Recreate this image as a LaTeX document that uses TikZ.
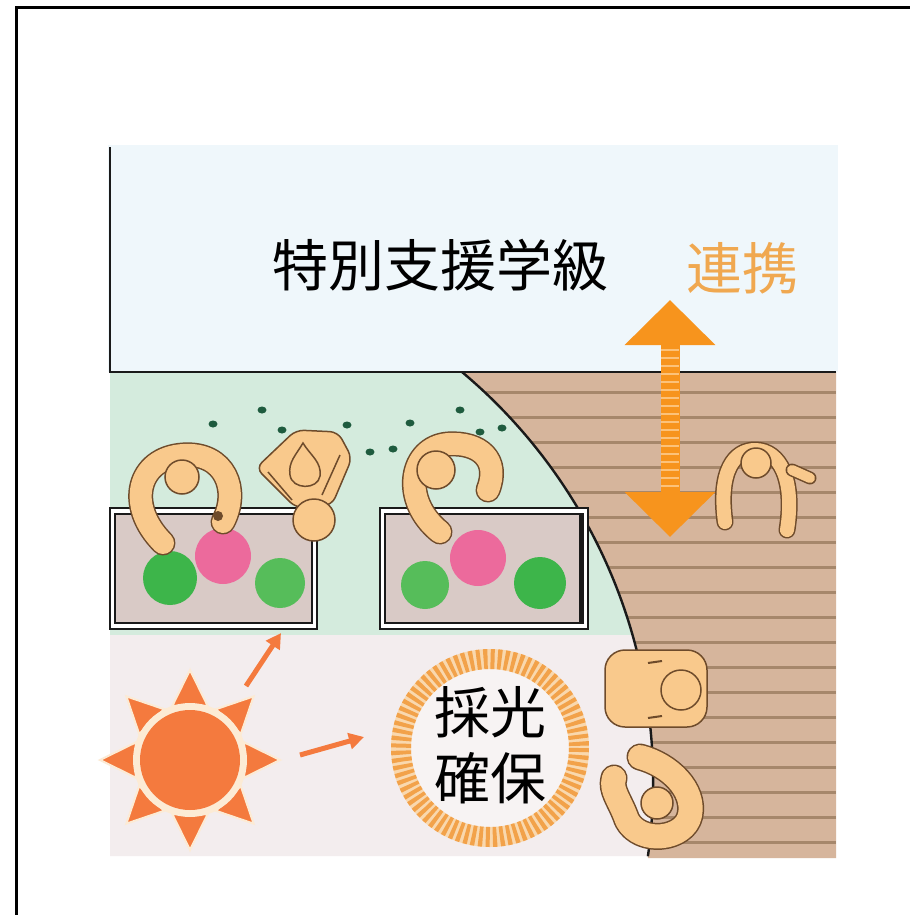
\documentclass[tikz,border=0pt]{standalone}
\usepackage{fontspec}
\usepackage{tikz}
\usetikzlibrary{arrows.meta,positioning,calc}
\newfontfamily\jpfont{Noto Sans CJK JP}
\definecolor{ink}{HTML}{1A1A1A}
\definecolor{sky}{HTML}{EFF7FB}
\definecolor{lawn}{HTML}{D4EBDD}
\definecolor{floor}{HTML}{F3EDEE}
\definecolor{deck}{HTML}{D6B59C}
\definecolor{deckline}{HTML}{A6876B}
\definecolor{soil}{HTML}{D9CAC6}
\definecolor{skin}{HTML}{F9C98C}
\definecolor{skinline}{HTML}{6E4B2B}
\definecolor{bloom}{HTML}{EC6A9C}
\definecolor{leaf}{HTML}{3DB54A}
\definecolor{leaflight}{HTML}{56BD5A}
\definecolor{seedgreen}{HTML}{1E5B3E}
\definecolor{linkorange}{HTML}{F7941D}
\definecolor{linkstripe}{HTML}{FCC27A}
\definecolor{labelorange}{HTML}{F0A850}
\definecolor{sunorange}{HTML}{F47A3E}
\definecolor{suncream}{HTML}{FCEBD5}
\definecolor{ringtick}{HTML}{F2A24A}
\definecolor{ringbg}{HTML}{F9D8AE}
\definecolor{ringin}{HTML}{F7F3F3}
\tikzset{
  wall/.style={draw=ink,line width=2.4pt},
  planterout/.style={draw=ink,fill=white,line width=1.4pt},
  planterin/.style={draw=ink,fill=soil,line width=2pt},
  bush/.style={fill=leaf},
  skinbody/.style={draw=skinline,double=skin,line width=1.5pt,
                   line cap=round,line join=round},
  skinhead/.style={fill=skin,draw=skinline,line width=1.5pt},
  seed/.style={fill=seedgreen},
  linkarr/.style={{Triangle[length=45pt,width=88pt]}-{Triangle[length=45pt,width=88pt]},
                  line width=19pt,draw=linkorange},
  sunarr/.style={-{Triangle[length=15pt,width=16pt]},line width=5pt,draw=sunorange},
  bigjp/.style={font=\jpfont\fontsize{56}{66}\selectfont,inner sep=0pt,align=center}
}

\begin{document}
\begin{tikzpicture}[x=1pt,y=-1pt]
  \useasboundingbox (0,0) rectangle (910,915);
  \fill[white] (0,0) rectangle (910,915);
  % outer frame
  \draw[line width=3pt] (16,915) -- (16,8) -- (910,8);

  % floor areas
  \fill[sky] (108,145) rectangle (838,372);
  \fill[lawn] (110,372) -- (462,372) arc[start angle=-50,end angle=-15.7,radius=535]
    -- (110,635) -- cycle;
  \fill[floor] (110,635) -- (633,635) arc[start angle=-15.7,end angle=8,radius=535]
    -- (648,856) -- (110,856) -- cycle;
  \fill[deck] (836,372) -- (462,372) arc[start angle=-50,end angle=8,radius=535]
    -- (648,858) -- (836,858) -- cycle;
  \begin{scope}
    \clip (836,372) -- (462,372) arc[start angle=-50,end angle=8,radius=535]
      -- (648,858) -- (836,858) -- cycle;
    \foreach \y in {392,417,...,845}
      \draw[deckline,line width=3pt] (440,\y) -- (836,\y);
  \end{scope}
  \draw[wall] (110,147) -- (110,372) -- (836,372);
  \draw[wall] (462,372) arc[start angle=-50,end angle=8,radius=535];

  % planters
  \draw[planterout] (110,508) rectangle (317,629);
  \draw[planterin] (115,514) rectangle (312,623);
  \draw[planterout] (380,508) rectangle (588,629);
  \draw[planterin] (385,514) rectangle (583,623);
  \draw[ink,line width=5pt] (581,514) -- (581,623);
  \fill[bush] (170,578) circle (27);
  \fill[bloom] (223,556) circle (28);
  \fill[leaflight] (280,583) circle (25);
  \fill[leaflight] (425,585) circle (24);
  \fill[bloom] (478,558) circle (28);
  \fill[bush] (540,583) circle (26);

  % seeds
  \foreach \px/\py in {213/424,262/410,282/430,347/425,370/452,
                       393/449,410/423,460/410,480/432,502/428}
    \fill[seed] (\px,\py) ellipse (4.5 and 3.5);

  % people at the planters
  \draw[skinbody,double distance=22pt] (163,543) .. controls (125,505) and (138,458) .. (183,455)
    .. controls (225,452) and (240,490) .. (223,522);
  \draw[skinhead] (182,477) circle (17);
  \fill[skinline] (218,516) circle (5);

  \filldraw[skinhead,rounded corners=8pt] (256,468) -- (296,430) -- (338,432)
    -- (352,458) -- (332,505) -- (296,508) -- cycle;
  \draw[skinline,line width=1.5pt] (268,472) -- (292,500) (340,455) -- (322,495);
  \filldraw[skinhead] (303,443) .. controls (296,455) and (288,462) .. (290,475)
    .. controls (292,490) and (318,490) .. (320,476)
    .. controls (322,462) and (310,455) .. (303,443) -- cycle;
  \draw[skinhead] (314,520) circle (21);

  \draw[skinbody,double distance=22pt] (440,532) .. controls (400,500) and (410,447) .. (448,444)
    .. controls (480,442) and (500,460) .. (488,490);
  \draw[skinhead] (436,470) circle (19);

  % people on the deck
  \draw[skinbody,double distance=14pt] (725,522) .. controls (718,470) and (735,450) .. (755,450)
    .. controls (780,450) and (795,480) .. (787,530);
  \draw[skinbody,double distance=10pt] (792,470) -- (810,478);
  \draw[skinhead] (756,463) circle (15);

  \filldraw[skinhead,rounded corners=20pt] (605,650) rectangle (707,727);
  \draw[skinhead] (681,690) circle (20);
  \draw[skinline,line width=2pt] (648,663) -- (662,661) (648,718) -- (662,716);

  \draw[skinbody,double distance=24pt] (640,757) .. controls (670,765) and (695,790) .. (690,815)
    .. controls (685,840) and (640,845) .. (627,820) .. controls (620,800) and (610,790) .. (614,778);
  \draw[skinhead] (657,803) circle (16);

  % link arrow
  \coordinate (linktop) at (670,300);
  \coordinate (linkbot) at (670,537);
  \draw[linkarr] (linktop) -- (linkbot);
  \foreach \y in {350,358,...,486}
    \draw[linkstripe,line width=1.2pt] (661,\y) -- (679,\y);

  % sun and rays
  \coordinate (sun) at (190,760);
  \foreach \a in {0,45,...,315}
    \filldraw[fill=sunorange,draw=suncream,line width=2pt]
      ([shift={(sun)}]\a:90) -- ([shift={(sun)}]\a+18:57) -- ([shift={(sun)}]\a-18:57) -- cycle;
  \fill[suncream] (sun) circle (57);
  \fill[sunorange] (sun) circle (50);
  \coordinate (ray1s) at (246,686);
  \coordinate (ray1e) at (281,633);
  \coordinate (ray2s) at (300,755);
  \coordinate (ray2e) at (364,737);
  \draw[sunarr] (ray1s) -- (ray1e);
  \draw[sunarr] (ray2s) -- (ray2e);

  % light ring
  \fill[ringin] (490,748) circle (80);
  \draw[ringbg,line width=20pt] (490,748) circle (89);
  \draw[ringtick,line width=20pt,dash pattern=on 4pt off 3pt] (490,748) circle (89);

  % labels
  \node[bigjp] (classname) at (440,265) {特別支援学級};
  \node[bigjp,text=labelorange] (renkei) at (742,268) {連携};
  \node[bigjp] (saiko) at (490,745) {採光\\確保};
\end{tikzpicture}
\end{document}
